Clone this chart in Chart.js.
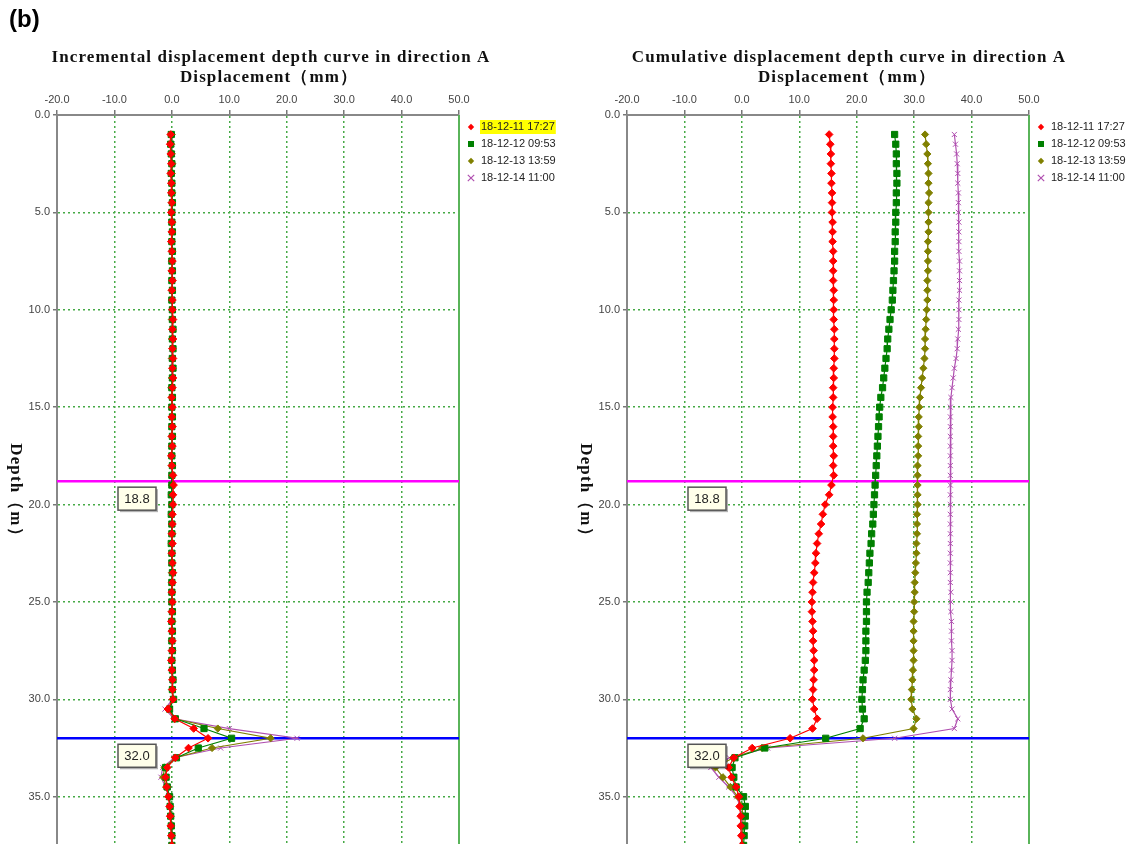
<!DOCTYPE html>
<html>
<head>
<meta charset="utf-8">
<script src="https://cdn.jsdelivr.net/npm/chart.js@4.4.0/dist/chart.umd.min.js"></script>
<style>
  html, body { margin: 0; padding: 0; background: #fff; }
  body { width: 1140px; height: 844px; position: relative; overflow: hidden; }
  .panel { position: absolute; top: 0; width: 570px; height: 844px; overflow: hidden; }
  #tag { position: absolute; left: 9px; top: 5px; z-index: 2;
         font: bold 24px "Liberation Sans", Arial, sans-serif; color: #000; }
</style>
</head>
<body>
<div id="tag">(b)</div>
<div class="panel" style="left:0"><canvas id="incChart" width="570" height="855"></canvas></div>
<div class="panel" style="left:570px"><canvas id="cumChart" width="570" height="855"></canvas></div>

<script>
// depth of each reading (m)
const depths = [
  1.0, 1.5, 2.0, 2.5, 3.0, 3.5, 4.0, 4.5, 5.0, 5.5,
  6.0, 6.5, 7.0, 7.5, 8.0, 8.5, 9.0, 9.5, 10.0, 10.5,
  11.0, 11.5, 12.0, 12.5, 13.0, 13.5, 14.0, 14.5, 15.0, 15.5,
  16.0, 16.5, 17.0, 17.5, 18.0, 18.5, 19.0, 19.5, 20.0, 20.5,
  21.0, 21.5, 22.0, 22.5, 23.0, 23.5, 24.0, 24.5, 25.0, 25.5,
  26.0, 26.5, 27.0, 27.5, 28.0, 28.5, 29.0, 29.5, 30.0, 30.5,
  31.0, 31.5, 32.0, 32.5, 33.0, 33.5, 34.0, 34.5, 35.0, 35.5,
  36.0, 36.5, 37.0, 37.5
];

const seriesLabels = ['18-12-11 17:27', '18-12-12 09:53', '18-12-13 13:59', '18-12-14 11:00'];

// incremental displacement (mm)
const incRed = [
  -0.2, -0.3, -0.2, -0.1, -0.2, -0.1, -0.1, 0.0, -0.1, 0.0,
  0.0, -0.1, 0.0, 0.1, 0.0, 0.1, 0.0, 0.1, 0.1, 0.2,
  0.1, 0.2, 0.1, 0.2, 0.1, 0.2, 0.1, 0.0, 0.1, 0.0,
  0.1, 0.0, 0.1, -0.1, 0.0, 0.2, 0.3, 0.2, 0.2, 0.1,
  0.1, 0.0, 0.1, 0.0, 0.1, 0.2, 0.1, 0.0, 0.1, 0.0,
  -0.1, 0.0, 0.1, 0.0, -0.1, 0.0, 0.1, 0.1, 0.2, -0.7,
  0.5, 3.8, 6.3, 2.9, 0.6, -0.8, -1.1, -0.9, -0.6, -0.4,
  -0.3, -0.2, -0.1, 0.0
];
const incGreen = [
  -0.1, -0.2, -0.1, 0.0, -0.1, 0.0, 0.0, 0.1, 0.0, 0.0,
  0.1, 0.0, 0.1, 0.0, 0.1, 0.0, 0.1, 0.0, 0.1, 0.1,
  0.2, 0.1, 0.2, 0.1, 0.2, 0.1, 0.0, 0.1, 0.0, 0.1,
  0.0, 0.1, 0.0, 0.0, 0.1, 0.0, 0.0, -0.1, 0.0, -0.1,
  0.0, 0.0, -0.1, 0.0, 0.0, 0.1, 0.0, 0.0, 0.0, 0.1,
  0.0, 0.1, 0.0, 0.1, 0.0, 0.1, 0.2, 0.1, 0.3, -0.4,
  0.6, 5.6, 10.4, 4.6, 0.8, -1.1, -1.0, -0.8, -0.4, -0.3,
  -0.2, -0.1, 0.0, 0.0
];
const incOlive = [
  0.0, -0.1, 0.0, 0.1, 0.0, 0.0, 0.1, 0.0, 0.0, 0.1,
  0.0, 0.0, 0.1, 0.0, 0.0, 0.1, 0.0, 0.0, 0.1, 0.0,
  0.1, 0.0, 0.1, 0.0, 0.1, 0.0, -0.1, 0.0, 0.0, 0.0,
  0.1, 0.0, 0.0, 0.0, 0.0, 0.1, 0.0, 0.0, 0.1, 0.0,
  0.0, 0.1, 0.0, 0.0, 0.1, 0.0, 0.0, 0.1, 0.0, 0.0,
  0.1, 0.0, 0.0, 0.1, 0.0, 0.0, 0.1, 0.0, 0.2, -0.6,
  0.5, 8.0, 17.2, 7.0, 0.6, -1.3, -1.5, -1.0, -0.5, -0.3,
  -0.2, -0.1, 0.0, 0.0
];
const incPurple = [
  0.1, 0.0, 0.1, 0.0, 0.1, 0.0, 0.0, 0.0, 0.1, 0.0,
  0.0, 0.1, 0.0, 0.0, 0.1, 0.0, 0.0, 0.1, 0.0, 0.0,
  0.0, 0.1, 0.0, -0.1, 0.0, 0.0, 0.1, 0.0, 0.0, 0.0,
  0.0, 0.0, 0.1, 0.0, 0.0, 0.0, 0.0, 0.1, 0.0, 0.0,
  0.1, 0.0, 0.0, 0.1, 0.0, 0.0, 0.1, 0.0, 0.0, 0.1,
  0.0, 0.0, 0.1, 0.0, 0.0, 0.1, 0.0, 0.1, 0.1, -1.2,
  0.4, 10.0, 21.8, 8.5, 0.4, -1.6, -1.9, -1.1, -0.6, -0.3,
  -0.2, -0.1, 0.0, 0.0
];

// cumulative displacement (mm)
const cumRed = [
  15.2, 15.4, 15.5, 15.5, 15.6, 15.6, 15.7, 15.7, 15.7, 15.8,
  15.8, 15.8, 15.9, 15.9, 15.9, 15.9, 16.0, 16.0, 16.0, 16.0,
  16.1, 16.1, 16.1, 16.1, 16.0, 16.0, 15.9, 15.9, 15.8, 15.8,
  15.9, 15.9, 15.9, 16.0, 15.9, 16.0, 15.6, 15.2, 14.5, 14.1,
  13.8, 13.4, 13.1, 12.9, 12.8, 12.6, 12.4, 12.3, 12.2, 12.2,
  12.3, 12.4, 12.4, 12.5, 12.6, 12.6, 12.5, 12.4, 12.3, 12.6,
  13.1, 12.3, 8.4, 1.8, -1.4, -2.3, -1.8, -1.0, -0.5, -0.4,
  -0.2, -0.2, -0.1, 0.0
];
const cumGreen = [
  26.6, 26.8, 26.9, 26.9, 27.0, 27.0, 26.9, 26.9, 26.8, 26.8,
  26.7, 26.7, 26.6, 26.6, 26.5, 26.4, 26.3, 26.2, 26.0, 25.8,
  25.6, 25.4, 25.3, 25.1, 24.9, 24.7, 24.5, 24.2, 24.0, 23.9,
  23.8, 23.7, 23.6, 23.5, 23.4, 23.3, 23.2, 23.1, 23.0, 22.9,
  22.8, 22.6, 22.5, 22.3, 22.2, 22.1, 22.0, 21.8, 21.7, 21.7,
  21.7, 21.6, 21.6, 21.6, 21.5, 21.3, 21.1, 21.0, 20.9, 21.0,
  21.3, 20.6, 14.6, 4.0, -1.2, -1.7, -1.4, -1.0, 0.3, 0.6,
  0.6, 0.5, 0.4, 0.3
];
const cumOlive = [
  31.9, 32.1, 32.3, 32.4, 32.5, 32.5, 32.6, 32.5, 32.5, 32.5,
  32.5, 32.4, 32.4, 32.4, 32.4, 32.3, 32.3, 32.3, 32.2, 32.1,
  32.0, 31.9, 31.9, 31.8, 31.6, 31.4, 31.2, 31.0, 30.9, 30.8,
  30.8, 30.7, 30.7, 30.7, 30.6, 30.6, 30.6, 30.6, 30.6, 30.5,
  30.5, 30.5, 30.4, 30.4, 30.3, 30.2, 30.1, 30.1, 30.0, 30.0,
  29.9, 29.9, 29.9, 29.9, 29.9, 29.8, 29.7, 29.6, 29.5, 29.7,
  30.4, 29.9, 21.1, 3.5, -1.5, -4.6, -3.3, -2.0, -0.7, 0.0,
  0.2, 0.2, 0.1, 0.1
];
const cumPurple = [
  37.0, 37.2, 37.4, 37.5, 37.6, 37.6, 37.7, 37.7, 37.7, 37.8,
  37.8, 37.8, 37.8, 37.9, 37.9, 37.9, 37.9, 37.8, 37.8, 37.8,
  37.7, 37.6, 37.5, 37.3, 37.0, 36.8, 36.6, 36.4, 36.3, 36.3,
  36.3, 36.3, 36.3, 36.3, 36.3, 36.3, 36.3, 36.3, 36.3, 36.3,
  36.3, 36.3, 36.3, 36.3, 36.3, 36.3, 36.3, 36.4, 36.4, 36.4,
  36.5, 36.5, 36.5, 36.6, 36.6, 36.5, 36.4, 36.3, 36.3, 36.6,
  37.6, 37.0, 26.6, 4.5, -2.2, -5.4, -4.0, -2.3, -0.9, -0.3,
  -0.1, 0.0, 0.0, 0.1
];

// marked depths (m)
const markerDepths = [18.8, 32.0];

// axis ranges
const xMin = -20, xMax = 50, xStep = 10;
const yMin = 0, yMax = 37.5, yStep = 5;

const seriesStyles = [
  { color: '#ff0000', shape: 'rectRot', radius: 3.8 },
  { color: '#008000', shape: 'rect', radius: 4.4 },
  { color: '#808000', shape: 'rectRot', radius: 3.6 },
  { color: '#b050b0', shape: 'crossRot', radius: 3.6 }
];
const markerColors = ['#ff00ff', '#0000ff'];
const gridGreen = 'rgb(70,170,70)';
const titleFont = 'bold 17px "Liberation Serif", "Times New Roman", serif';

function drawMarker(ctx, shape, x, y, r, color) {
  ctx.save();
  ctx.fillStyle = color;
  ctx.strokeStyle = color;
  ctx.lineWidth = 1.2;
  ctx.beginPath();
  if (shape === 'rect') {
    ctx.rect(x - r, y - r, 2 * r, 2 * r);
    ctx.fill();
  } else if (shape === 'rectRot') {
    ctx.moveTo(x, y - r); ctx.lineTo(x + r, y); ctx.lineTo(x, y + r); ctx.lineTo(x - r, y);
    ctx.closePath();
    ctx.fill();
  } else {
    ctx.moveTo(x - r, y - r); ctx.lineTo(x + r, y + r);
    ctx.moveTo(x + r, y - r); ctx.lineTo(x - r, y + r);
    ctx.stroke();
  }
  ctx.restore();
}

const depthDecor = {
  id: 'depthDecor',
  beforeDatasetsDraw(chart) {
    const { ctx, chartArea: a, scales: { y } } = chart;
    ctx.save();
    // right frame
    ctx.strokeStyle = 'rgb(90,180,90)';
    ctx.lineWidth = 2;
    ctx.beginPath();
    ctx.moveTo(a.right, a.top);
    ctx.lineTo(a.right, a.bottom);
    ctx.stroke();
    // marked depth lines
    markerDepths.forEach((d, i) => {
      const py = y.getPixelForValue(d);
      ctx.strokeStyle = markerColors[i];
      ctx.lineWidth = 2.5;
      ctx.beginPath();
      ctx.moveTo(a.left, py);
      ctx.lineTo(a.right, py);
      ctx.stroke();
    });
    ctx.restore();
  },
  afterDraw(chart, args, opts) {
    const { ctx, chartArea: a, scales: { y } } = chart;
    const mid = (a.left + a.right) / 2;
    ctx.save();
    ctx.fillStyle = '#111';
    ctx.textAlign = 'center';
    ctx.textBaseline = 'middle';
    ctx.font = titleFont;
    ctx.letterSpacing = '1.1px';
    ctx.fillText(opts.title, mid + opts.titleShift, 58);
    ctx.fillText('Displacement（mm）', mid + opts.subShift, 78);

    // vertical depth title, reading top to bottom
    ctx.save();
    ctx.translate(a.left - 42, 494);
    ctx.rotate(Math.PI / 2);
    ctx.fillText('Depth（m）', 0, 0);
    ctx.restore();
    ctx.letterSpacing = '0px';

    // legend
    ctx.textAlign = 'left';
    ctx.font = '11px "Liberation Sans", Arial, sans-serif';
    seriesLabels.forEach((label, i) => {
      const ly = 127 + i * 17;
      const st = seriesStyles[i];
      drawMarker(ctx, st.shape, a.right + 12, ly, st.shape === 'rect' ? 3 : 3.2, st.color);
      const tx = a.right + 22;
      if (i === 0 && opts.highlightFirst) {
        const w = ctx.measureText(label).width;
        ctx.fillStyle = '#ffff00';
        ctx.fillRect(tx - 1, ly - 7, w + 2, 14);
      }
      ctx.fillStyle = '#222';
      ctx.fillText(label, tx, ly);
    });

    // depth tags
    ctx.font = '13px "Liberation Sans", Arial, sans-serif';
    ctx.textAlign = 'center';
    markerDepths.forEach((d) => {
      const py = y.getPixelForValue(d);
      const bx = a.left + 61, by = py + 6, bw = 38, bh = 23;
      ctx.fillStyle = 'rgba(0,0,0,0.3)';
      ctx.fillRect(bx + 2, by + 2, bw, bh);
      ctx.fillStyle = '#ffffea';
      ctx.fillRect(bx, by, bw, bh);
      ctx.strokeStyle = '#555';
      ctx.lineWidth = 1.5;
      ctx.strokeRect(bx, by, bw, bh);
      ctx.fillStyle = '#222';
      ctx.fillText(d.toFixed(1), bx + bw / 2, by + bh / 2 + 1);
    });
    ctx.restore();
  }
};

function makeChart(canvasId, values, title, highlightFirst, titleShift, subShift) {
  const datasets = seriesLabels.map((label, i) => ({
    label,
    data: depths.map((d, k) => ({ x: values[i][k], y: d })),
    borderColor: seriesStyles[i].color,
    backgroundColor: seriesStyles[i].color,
    pointStyle: seriesStyles[i].shape,
    pointRadius: seriesStyles[i].radius,
    pointBorderWidth: 1,
    borderWidth: 1.2,
    showLine: true,
    tension: 0
  }));

  const tickFont = { family: '"Liberation Sans", Arial, sans-serif', size: 11 };
  const gridColor = (edges) => (ctx) =>
    edges.includes(ctx.tick && ctx.tick.value) ? 'rgba(0,0,0,0)' : gridGreen;

  return new Chart(document.getElementById(canvasId), {
    type: 'scatter',
    data: { datasets },
    options: {
      responsive: false,
      animation: false,
      layout: { padding: { left: 0, right: 111, top: 0, bottom: 0 } },
      plugins: {
        legend: { display: false },
        tooltip: { enabled: false },
        depthDecor: { title, highlightFirst, titleShift, subShift }
      },
      scales: {
        x: {
          type: 'linear',
          position: 'top',
          min: xMin,
          max: xMax,
          ticks: {
            stepSize: xStep,
            callback: (v) => v.toFixed(1),
            font: tickFont,
            color: '#444',
            padding: 3,
            maxRotation: 0
          },
          grid: {
            color: gridColor([xMin, xMax]),
            lineWidth: 1.5,
            tickColor: '#777',
            tickLength: 5
          },
          border: { color: '#888', width: 2, dash: [2, 3] },
          afterFit: (s) => { s.height = 115; }
        },
        y: {
          type: 'linear',
          reverse: true,
          min: yMin,
          max: yMax,
          ticks: {
            stepSize: yStep,
            includeBounds: false,
            callback: (v) => v.toFixed(1),
            font: tickFont,
            color: '#444',
            padding: 3
          },
          grid: {
            color: gridColor([yMin]),
            lineWidth: 1.5,
            tickColor: '#777',
            tickLength: 4
          },
          border: { color: '#888', width: 2, dash: [2, 3] },
          afterFit: (s) => { s.width = 57; }
        }
      }
    },
    plugins: [depthDecor]
  });
}

makeChart('incChart', [incRed, incGreen, incOlive, incPurple],
  'Incremental displacement depth curve in direction A', true, 13, 11);
makeChart('cumChart', [cumRed, cumGreen, cumOlive, cumPurple],
  'Cumulative displacement depth curve in direction A', false, 21, 19);
</script>
</body>
</html>
